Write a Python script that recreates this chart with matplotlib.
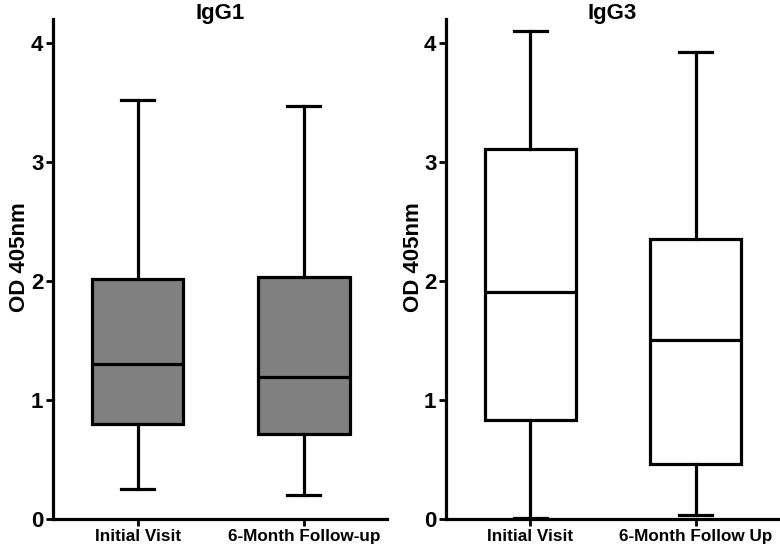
import matplotlib
matplotlib.use("Agg")
import matplotlib.pyplot as plt
from matplotlib.transforms import blended_transform_factory

plt.rcParams['font.family'] = ['Liberation Sans', 'DejaVu Sans']

categories_igg1 = ["Initial Visit", "6-Month Follow-up"]
categories_igg3 = ["Initial Visit", "6-Month Follow Up"]

# five-number summaries: whisker low, Q1, median, Q3, whisker high
igg1_low = [0.25, 0.20]
igg1_q1 = [0.80, 0.71]
igg1_med = [1.30, 1.19]
igg1_q3 = [2.02, 2.03]
igg1_high = [3.52, 3.47]

igg3_low = [0.01, 0.035]
igg3_q1 = [0.83, 0.46]
igg3_med = [1.91, 1.50]
igg3_q3 = [3.11, 2.35]
igg3_high = [4.10, 3.92]

yticks = [0, 1, 2, 3, 4]

fig = plt.figure(figsize=(7.8, 5.46), dpi=100)
ax1 = fig.add_axes([0.068, 0.0495, 0.428, 0.9155])
ax2 = fig.add_axes([0.572, 0.0495, 0.426, 0.9155])

lw = 2.3

def draw(ax, title, cats, lo, q1, med, q3, hi, face, ylx):
    stats = []
    for i in range(len(cats)):
        stats.append(dict(whislo=lo[i], q1=q1[i], med=med[i], q3=q3[i],
                          whishi=hi[i], fliers=[], label=cats[i]))
    ax.bxp(stats, positions=[1, 2], widths=0.55, patch_artist=True,
           showfliers=False,
           boxprops=dict(facecolor=face, edgecolor='black', linewidth=lw),
           medianprops=dict(color='black', linewidth=lw),
           whiskerprops=dict(color='black', linewidth=lw),
           capprops=dict(color='black', linewidth=lw),
           capwidths=0.2)
    ax.set_xlim(0.49, 2.5)
    ax.set_ylim(0, 4.2)
    ax.set_yticks(yticks)
    ax.set_yticklabels([str(t) for t in yticks], fontsize=16, fontweight='bold')
    ax.set_xticks([1, 2])
    ax.set_xticklabels(cats, fontsize=12.3, fontweight='bold')
    for s in ['top', 'right']:
        ax.spines[s].set_visible(False)
    for s in ['left', 'bottom']:
        ax.spines[s].set_linewidth(lw)
    ax.tick_params(axis='both', direction='out', length=5, width=2, pad=2)
    ax.set_ylabel("OD 405nm", fontsize=16, fontweight='bold')
    ax.yaxis.set_label_coords(ylx, 0.524)
    tr = blended_transform_factory(ax.transAxes, fig.transFigure)
    ax.text(0.5, 1 - 14 / 546, title, transform=tr,
            fontsize=16, fontweight='bold', ha='center', va='center')
    ax.patch.set_alpha(0)

draw(ax1, "IgG1", categories_igg1, igg1_low, igg1_q1, igg1_med, igg1_q3, igg1_high, '#808080', -0.068)
draw(ax2, "IgG3", categories_igg3, igg3_low, igg3_q1, igg3_med, igg3_q3, igg3_high, 'white', -0.068)

fig.savefig("out.png", dpi=100)
